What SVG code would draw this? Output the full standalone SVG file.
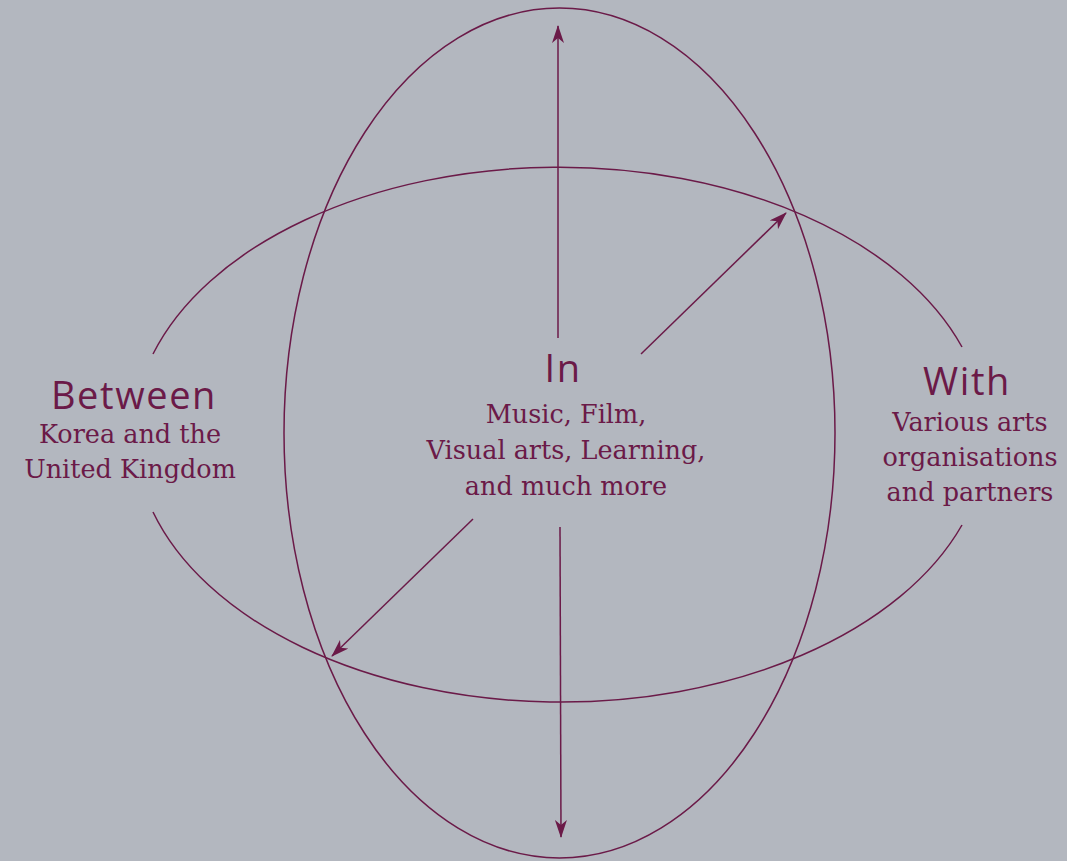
<svg xmlns="http://www.w3.org/2000/svg" width="1067" height="861" viewBox="0 0 1067 861">
<defs>
<style>
.ln{fill:none;stroke:#6b1a48;stroke-width:1.5}
.hd{font-family:"Open Sans","DejaVu Sans",sans-serif;font-size:38px;fill:#6b1a48;text-anchor:middle;letter-spacing:1.6px}
.bd{font-family:"DejaVu Serif","Liberation Serif",serif;font-size:25.5px;fill:#6b1a48;text-anchor:middle}
</style>
<marker id="ah" viewBox="0 0 18 12" refX="17" refY="6" markerWidth="18" markerHeight="12" markerUnits="userSpaceOnUse" orient="auto">
<path d="M0,0 L18,6 L0,12 L5,6 Z" fill="#6b1a48"/>
</marker>
</defs>
<rect width="1067" height="861" fill="#b3b7bf"/>
<g id="shapes">
<ellipse id="vertical-ellipse" class="ln" cx="559.5" cy="433" rx="275.5" ry="425"/>
<path id="horizontal-ellipse-top" class="ln" d="M153,354 A426,267 0 0 1 962,347"/>
<path id="horizontal-ellipse-bottom" class="ln" d="M153,512 A426,267 0 0 0 962,525"/>
</g>
<g id="connectors">
<line class="ln" x1="558" y1="338" x2="558" y2="26" marker-end="url(#ah)"/>
<line class="ln" x1="560" y1="527" x2="561" y2="837" marker-end="url(#ah)"/>
<line class="ln" x1="641" y1="354" x2="786" y2="213" marker-end="url(#ah)"/>
<line class="ln" x1="473" y1="519" x2="332" y2="656" marker-end="url(#ah)"/>
</g>
<g id="node-in">
<text class="hd" x="563" y="382">In</text>
<text class="bd" x="566" y="423">Music, Film,</text>
<text class="bd" x="566" y="459">Visual arts, Learning,</text>
<text class="bd" x="566" y="495">and much more</text>
</g>
<g id="node-between">
<text class="hd" x="134" y="409">Between</text>
<text class="bd" x="130" y="443">Korea and the</text>
<text class="bd" x="130" y="478">United Kingdom</text>
</g>
<g id="node-with">
<text class="hd" x="967" y="395">With</text>
<text class="bd" x="970" y="431">Various arts</text>
<text class="bd" x="970" y="466">organisations</text>
<text class="bd" x="970" y="501">and partners</text>
</g>
</svg>
